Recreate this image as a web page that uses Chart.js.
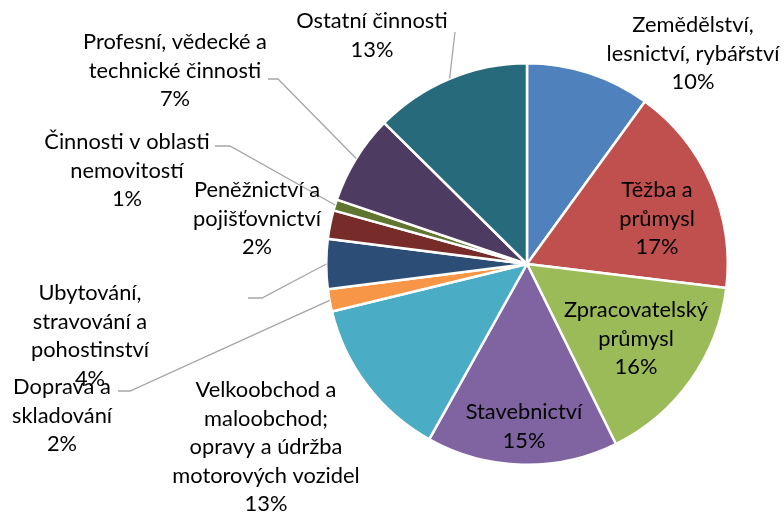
<!DOCTYPE html>
<html>
<head>
<meta charset="utf-8">
<script src="https://cdn.jsdelivr.net/npm/chart.js@4/dist/chart.umd.min.js"></script>
<style>
html,body{margin:0;padding:0;background:#fff;}
#wrap{width:784px;height:513px;position:relative;}
</style>
</head>
<body>
<div id="wrap"><canvas id="c" width="784" height="513"></canvas></div>
<script>
// ---- data ----
const categories = [
  ["Zemědělství,", "lesnictví, rybářství"],
  ["Těžba a", "průmysl"],
  ["Zpracovatelský", "průmysl"],
  ["Stavebnictví"],
  ["Velkoobchod a", "maloobchod;", "opravy a údržba", "motorových vozidel"],
  ["Doprava a", "skladování"],
  ["Ubytování,", "stravování a", "pohostinství"],
  ["Peněžnictví a", "pojišťovnictví"],
  ["Činnosti v oblasti", "nemovitostí"],
  ["Profesní, vědecké a", "technické činnosti"],
  ["Ostatní činnosti"]
];
const shares = [10.0, 16.9, 15.8, 15.4, 13.1, 1.8, 4.0, 2.3, 0.9, 7.2, 12.6];
const colors = ["#4F81BD","#C0504D","#9BBB59","#8064A2","#4BACC6","#F79646","#2C4D75","#772C2A","#5F7530","#4D3B62","#276A7C"];

// ---- label layout (center x, first line y; leader elbow points or null) ----
const labelLayout = [
  {x:693, y:25,  leader:null},
  {x:657, y:190, leader:null},
  {x:636, y:310, leader:null},
  {x:524, y:412, leader:null},
  {x:266, y:390, leader:null},
  {x:62,  y:387, leader:[118,391,130,391]},
  {x:90,  y:293, leader:[248,298,262,298]},
  {x:257, y:190, leader:null},
  {x:127, y:142, leader:[215,146,230,146]},
  {x:175, y:42,  leader:[268,79,278,79]},
  {x:372, y:21,  leader:[455,32,455,32]}
];

const FONT_FAMILY = "Lato, 'Open Sans', sans-serif";
const LINE_H = 28.6;

const labelPlugin = {
  id: 'pieLabels',
  afterDatasetsDraw(chart) {
    const ctx = chart.ctx;
    const meta = chart.getDatasetMeta(0);
    const total = shares.reduce((a,b)=>a+b,0);
    ctx.save();
    ctx.font = "100px " + FONT_FAMILY;
    const ref = ctx.measureText("Zpracovatelský").width;
    const size = 100 * 144 / ref;
    // leader lines
    ctx.strokeStyle = "#A6A6A6";
    ctx.lineWidth = 1.3;
    meta.data.forEach((arc, i) => {
      const L = labelLayout[i];
      if (!L.leader) return;
      const p = arc.getProps(['x','y','startAngle','endAngle','outerRadius'], true);
      const mid = (p.startAngle + p.endAngle) / 2;
      const ex = p.x + Math.cos(mid) * p.outerRadius;
      const ey = p.y + Math.sin(mid) * p.outerRadius;
      ctx.beginPath();
      ctx.moveTo(L.leader[0], L.leader[1]);
      ctx.lineTo(L.leader[2], L.leader[3]);
      ctx.lineTo(ex, ey);
      ctx.stroke();
    });
    // texts
    ctx.font = size.toFixed(2) + "px " + FONT_FAMILY;
    ctx.fillStyle = "#000";
    ctx.textAlign = "center";
    ctx.textBaseline = "middle";
    meta.data.forEach((arc, i) => {
      const L = labelLayout[i];
      const lines = categories[i].concat([Math.round(shares[i] / total * 100) + "%"]);
      lines.forEach((t, k) => ctx.fillText(t, L.x, L.y + k * LINE_H));
    });
    ctx.restore();
  }
};

new Chart(document.getElementById('c'), {
  type: 'pie',
  data: {
    labels: categories.map(c => c.join(' ')),
    datasets: [{
      data: shares,
      backgroundColor: colors,
      borderColor: "#fff",
      borderWidth: 2.5
    }]
  },
  options: {
    responsive: false,
    animation: false,
    layout: {padding: {left: 325, right: 55, top: 62, bottom: 47}},
    plugins: {legend: {display: false}, tooltip: {enabled: false}}
  },
  plugins: [labelPlugin]
});
</script>
</body>
</html>
